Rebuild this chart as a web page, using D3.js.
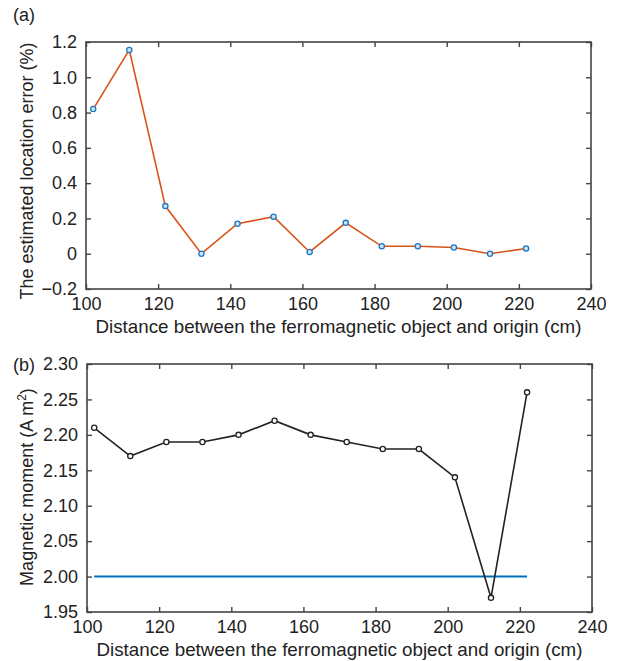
<!DOCTYPE html>
<html>
<head>
<meta charset="utf-8">
<script src="https://cdn.jsdelivr.net/npm/d3@7.9.0/dist/d3.min.js"></script>
<style>
  body { margin: 0; background: #fff; }
  svg text { font-family: "Liberation Sans", Arial, sans-serif; fill: #222; }
</style>
</head>
<body>
<svg id="chart" width="617" height="661"></svg>
<script>
// distances (cm)
const distances = [102, 112, 122, 132, 142, 152, 162, 172, 182, 192, 202, 212, 222];
// (a) estimated location error (%)
const locationError = [0.82, 1.155, 0.27, 0.0, 0.17, 0.21, 0.01, 0.175, 0.042, 0.042, 0.035, 0.0, 0.03];
// (b) magnetic moment (A m^2)
const moment = [2.21, 2.17, 2.19, 2.19, 2.20, 2.22, 2.20, 2.19, 2.18, 2.18, 2.14, 1.97, 2.26];
const trueMoment = 2.00;

const xTicks = [100, 120, 140, 160, 180, 200, 220, 240];
const yTicksA = [-0.2, 0, 0.2, 0.4, 0.6, 0.8, 1.0, 1.2];
const yTicksB = [1.95, 2.00, 2.05, 2.10, 2.15, 2.20, 2.25, 2.30];

const xLabel = 'Distance between the ferromagnetic object and origin (cm)';

const svg = d3.select('#chart');
const frameColor = '#444';
const fs = 18;

function drawPanel(opts) {
  const { left, right, top, bottom, yDomain, yTicks, yFmt } = opts;
  const x = d3.scaleLinear().domain([100, 240]).range([left, right]);
  const y = d3.scaleLinear().domain(yDomain).range([bottom, top]);
  const g = svg.append('g');

  // axes with inward ticks on all four sides
  const tl = 5;
  const bottomAxis = d3.axisBottom(x).tickValues(xTicks).tickSize(-tl).tickPadding(tl + 3).tickFormat(d3.format('d'));
  const topAxis = d3.axisTop(x).tickValues(xTicks).tickSize(-tl).tickFormat('');
  const leftAxis = d3.axisLeft(y).tickValues(yTicks).tickSize(-tl).tickPadding(tl + 4).tickFormat(yFmt);
  const rightAxis = d3.axisRight(y).tickValues(yTicks).tickSize(-tl).tickFormat('');

  const styleAxis = sel => {
    sel.select('.domain').remove();
    sel.selectAll('.tick line').attr('stroke', frameColor).attr('stroke-width', 1.4);
    sel.selectAll('.tick text').attr('font-size', fs).style('fill', '#222')
      .attr('font-family', '"Liberation Sans", Arial, sans-serif');
  };

  g.append('g').attr('transform', `translate(0,${bottom})`).call(bottomAxis).call(styleAxis);
  g.append('g').attr('transform', `translate(0,${top})`).call(topAxis).call(styleAxis);
  g.append('g').attr('transform', `translate(${left},0)`).call(leftAxis).call(styleAxis);
  g.append('g').attr('transform', `translate(${right},0)`).call(rightAxis).call(styleAxis);

  g.append('rect')
    .attr('x', left).attr('y', top)
    .attr('width', right - left).attr('height', bottom - top)
    .attr('fill', 'none').attr('stroke', frameColor).attr('stroke-width', 1.6);

  // x label
  g.append('text')
    .attr('x', (left + right) / 2).attr('y', bottom + 44)
    .attr('text-anchor', 'middle').attr('font-size', 18.5)
    .attr('textLength', 486).attr('lengthAdjust', 'spacingAndGlyphs')
    .text(xLabel);

  return { g, x, y };
}

// ---------- panel (a) ----------
const a = drawPanel({
  left: 86, right: 591, top: 42, bottom: 289,
  yDomain: [-0.2, 1.2], yTicks: yTicksA,
  yFmt: d => d === 0 ? '0' : d3.format('.1f')(d).replace('-', '\u2212')
});

a.g.append('path')
  .datum(distances.map((d, i) => [d, locationError[i]]))
  .attr('fill', 'none').attr('stroke', '#D95319').attr('stroke-width', 1.6)
  .attr('d', d3.line().x(d => a.x(d[0])).y(d => a.y(d[1])));

a.g.selectAll('circle')
  .data(distances.map((d, i) => [d, locationError[i]]))
  .join('circle')
  .attr('cx', d => a.x(d[0])).attr('cy', d => a.y(d[1]))
  .attr('r', 2.6).attr('fill', '#cfe3f3').attr('stroke', '#1f77c4').attr('stroke-width', 1.3);

svg.append('text').attr('x', 13).attr('y', 21).attr('font-size', fs).text('(a)');

svg.append('text')
  .attr('transform', 'translate(33,171) rotate(-90)')
  .attr('text-anchor', 'middle').attr('font-size', fs)
  .text('The estimated location error (%)');

// ---------- panel (b) ----------
const b = drawPanel({
  left: 87, right: 592, top: 364, bottom: 612,
  yDomain: [1.95, 2.30], yTicks: yTicksB,
  yFmt: d3.format('.2f')
});

b.g.append('line')
  .attr('x1', b.x(distances[0])).attr('x2', b.x(distances[distances.length - 1]))
  .attr('y1', b.y(trueMoment)).attr('y2', b.y(trueMoment))
  .attr('stroke', '#0072BD').attr('stroke-width', 2);

b.g.append('path')
  .datum(distances.map((d, i) => [d, moment[i]]))
  .attr('fill', 'none').attr('stroke', '#222').attr('stroke-width', 1.6)
  .attr('d', d3.line().x(d => b.x(d[0])).y(d => b.y(d[1])));

b.g.selectAll('circle')
  .data(distances.map((d, i) => [d, moment[i]]))
  .join('circle')
  .attr('cx', d => b.x(d[0])).attr('cy', d => b.y(d[1]))
  .attr('r', 2.6).attr('fill', '#fff').attr('stroke', '#222').attr('stroke-width', 1.3);

svg.append('text').attr('x', 13).attr('y', 371).attr('font-size', fs).text('(b)');

const mLabel = svg.append('text')
  .attr('transform', 'translate(33,487) rotate(-90)')
  .attr('text-anchor', 'middle').attr('font-size', fs);
mLabel.append('tspan').text('Magnetic moment (A m');
mLabel.append('tspan').attr('font-size', 12).attr('dy', -7).text('2');
mLabel.append('tspan').attr('dy', 7).text(')');
</script>
</body>
</html>
